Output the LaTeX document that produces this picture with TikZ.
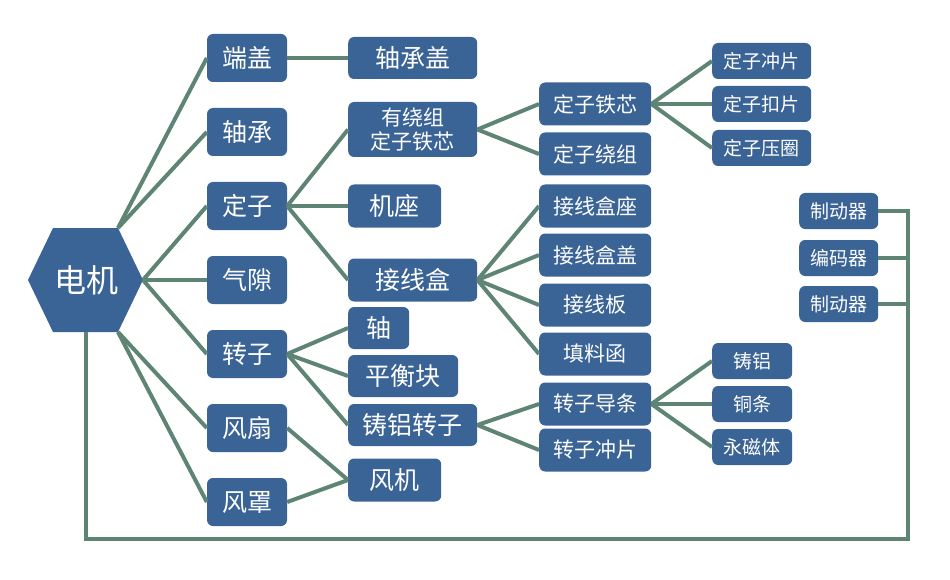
\documentclass[tikz,border=0pt]{standalone}
\usepackage{fontspec}
\newfontfamily\cjk{Noto Sans CJK SC}
\definecolor{boxblue}{HTML}{3A6396}
\definecolor{linkgreen}{HTML}{5E8474}

\tikzset{
    part/.style={rounded corners=6pt, fill=boxblue, text=white, inner sep=0pt,
        font=\cjk\fontsize{25}{30}\selectfont},
    small/.style={part, font=\cjk\fontsize{21}{24}\selectfont},
    tiny/.style={part, font=\cjk\fontsize{19}{22}\selectfont, minimum height=36},
    link/.style={draw=linkgreen, line width=4pt},
}

\begin{document}
\begin{tikzpicture}[x=1pt,y=-1pt]
    \useasboundingbox (0,0) rectangle (950,580);

    % motor hexagon
    \fill[boxblue] (28,280)coordinate (hexL)
            --(53,228)
            --(118,228)coordinate (hexT)
            --(143,280)coordinate (hexR)
            --(118,332)coordinate (hexB)
            --(53,332)
            --cycle;
    \node[text=white, font=\cjk\fontsize{32}{36}\selectfont] (motor) at (86,280) {电机};
    \coordinate (hexD) at (86,332);

    % first level
    \foreach \n/\y/\t in {duangai/58/端盖, zhoucheng/132/轴承, dingzi/206/定子,
        qixi/280/气隙, zhuanzi/354/转子, fengshan/428/风扇, fengzhao/502/风罩} {
    \node[part, minimum width=80, minimum height=48] (\n) at (247,\y) {\t};}

    % second level
    \node[part, anchor=west, minimum width=129, minimum height=42] (zcgai) at (348,58) {轴承盖};
    \node[small, anchor=west, minimum width=129, minimum height=55, align=center] (rzcore) at (348,129.5) {有绕组\\定子铁芯};
    \node[part, anchor=west, minimum width=93, minimum height=43] (jizuo) at (348,206) {机座};
    \node[part, anchor=west, minimum width=129, minimum height=43] (jxhe) at (348,280) {接线盒};
    \node[part, anchor=west, minimum width=61, minimum height=42] (zhou) at (348,328) {轴};
    \node[part, anchor=west, minimum width=110, minimum height=42] (phk) at (348,376) {平衡块};
    \node[part, anchor=west, minimum width=129, minimum height=42] (zlzz) at (348,425) {铸铝转子};
    \node[part, anchor=west, minimum width=93, minimum height=43] (fengji) at (348,480) {风机};

    % third level
    \foreach \n/\y/\t in {dztx/104/定子铁芯, dzrz/154/定子绕组, jxhz/206/接线盒座,
        jxhg/255/接线盒盖, jxb/305/接线板, tlh/354/填料函, zzdt/404/转子导条, zzcp/450/转子冲片} {
    \node[small, anchor=west, minimum width=112, minimum height=43] (\n) at (539,\y) {\t};}

    % fourth level
    \node[tiny, anchor=west, minimum width=99] (dzcp) at (712,61) {定子冲片};
    \node[tiny, anchor=west, minimum width=99] (dzkp) at (712,104) {定子扣片};
    \node[tiny, anchor=west, minimum width=99] (dzyq) at (712,148) {定子压圈};
    \node[tiny, anchor=west, minimum width=80] (zhulv) at (712,361) {铸铝};
    \node[tiny, anchor=west, minimum width=80] (tongtiao) at (712,404) {铜条};
    \node[tiny, anchor=west, minimum width=80] (ycti) at (712,447) {永磁体};

    % accessories
    \node[tiny, anchor=west, minimum width=79] (brake1) at (799,211) {制动器};
    \node[tiny, anchor=west, minimum width=79] (encoder) at (799,258) {编码器};
    \node[tiny, anchor=west, minimum width=79] (brake2) at (799,304) {制动器};

    % links
    \draw[link] (hexT)--(duangai.west);
    \draw[link] (hexT)--(zhoucheng.west);
    \draw[link] (hexR)--(dingzi.west);
    \draw[link] (hexR)--(qixi.west);
    \draw[link] (hexR)--(zhuanzi.west);
    \draw[link] (hexB)--(fengshan.west);
    \draw[link] (hexB)--(fengzhao.west);

    \draw[link] (duangai.east)--(zcgai.west);
    \foreach \m in {rzcore,jizuo,jxhe} {\draw[link] (dingzi.east)--(\m.west);}
    \foreach \m in {zhou,phk,zlzz} {\draw[link] (zhuanzi.east)--(\m.west);}
    \draw[link] (fengshan.east)--(fengji.west);
    \draw[link] (fengzhao.east)--(fengji.west);

    \foreach \m in {dztx,dzrz} {\draw[link] (rzcore.east)--(\m.west);}
    \foreach \m in {jxhz,jxhg,jxb,tlh} {\draw[link] (jxhe.east)--(\m.west);}
    \foreach \m in {zzdt,zzcp} {\draw[link] (zlzz.east)--(\m.west);}

    \foreach \m in {dzcp,dzkp,dzyq} {\draw[link] (dztx.east)--(\m.west);}
    \foreach \m in {zhulv,tongtiao,ycti} {\draw[link] (zzdt.east)--(\m.west);}

    % bus back to the motor
    \coordinate (busend) at (908,539);
    \draw[link] (brake1.east)-|(busend)-|(hexD);
    \foreach \m in {encoder,brake2} {\draw[link] (\m.east)-|(busend);}

\end{tikzpicture}
\end{document}
